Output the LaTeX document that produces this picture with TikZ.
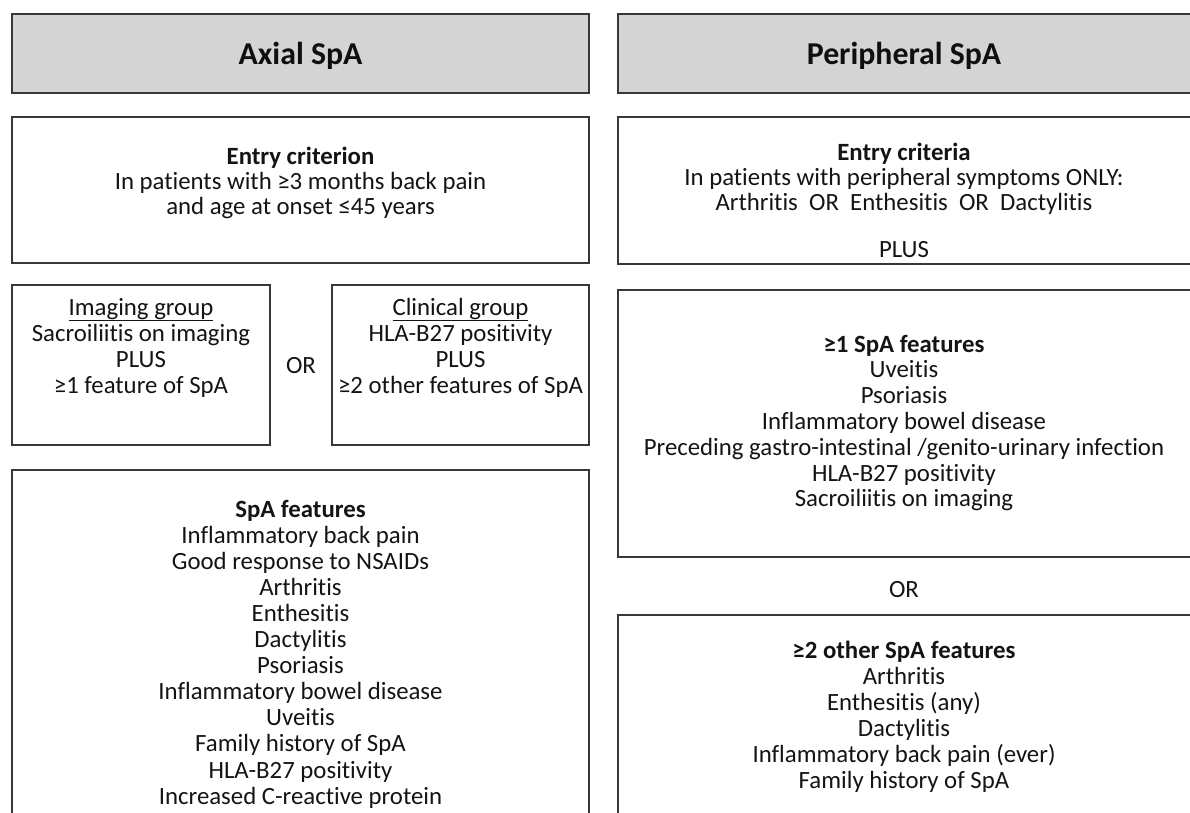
\documentclass[tikz,border=0pt]{standalone}
\usepackage{fontspec}
\setmainfont{Carlito}[Ligatures=NoCommon]
\begin{document}
\begin{tikzpicture}[x=1pt,y=-1pt,
  frame/.style={draw=black!78,line width=1.6pt,inner sep=0pt},
  headbox/.style={frame,fill=black!17},
  txt/.style={inner sep=0pt,text=black!92,font=\fontsize{24.8}{26}\selectfont},
  headtxt/.style={inner sep=0pt,text=black!94,font=\fontsize{31.8}{34}\selectfont\bfseries}]
\useasboundingbox (0,0) rectangle (1190,812);
\clip (0,0) rectangle (1190,812);
\fill[white] (0,0) rectangle (1190,812);

% one text node per line, baselines spaced evenly
\newcommand\txtlines[5]{%
  \foreach \t [count=\k from 0] in {#5} {
    \node[txt,anchor=base] (#1\k) at (#2,{#3+#4*\k}) {\t};
  }}

% ---------- Axial column ----------
\node[headbox,minimum width=577pt,minimum height=79pt] (hdrA) at (300.5,53.5) {};
\node[headtxt,anchor=base] (hdrAt) at (300.5,64) {Axial SpA};

\node[frame,minimum width=577pt,minimum height=146pt] (entryA) at (300.5,190) {};
\txtlines{ea}{300.5}{164}{25}{{\bfseries Entry criterion},In patients with ≥3 months back pain,and age at onset ≤45 years}

\node[frame,minimum width=258pt,minimum height=160pt] (imgG) at (141,365) {};
\txtlines{ig}{141}{315}{26}{\underline{Imaging group},Sacroiliitis on imaging,PLUS,≥1 feature of SpA}

\node[txt,anchor=base] (orA) at (301,373) {OR};

\node[frame,minimum width=257pt,minimum height=160pt] (clinG) at (460.5,365) {};
\txtlines{cg}{460.5}{315}{26}{\underline{Clinical group},HLA-B27 positivity,PLUS,≥2 other features of SpA}

\node[frame,minimum width=577pt,minimum height=380pt] (featA) at (300.5,660) {};
\txtlines{fa}{300.5}{517}{26.1}{{\bfseries SpA features},Inflammatory back pain,Good response to NSAIDs,Arthritis,Enthesitis,Dactylitis,Psoriasis,Inflammatory bowel disease,Uveitis,Family history of SpA,HLA-B27 positivity,Increased C-reactive protein}

% ---------- Peripheral column ----------
\node[headbox,minimum width=582pt,minimum height=79pt] (hdrP) at (909,53.5) {};
\node[headtxt,anchor=base] (hdrPt) at (904,64) {Peripheral SpA};

\node[frame,minimum width=582pt,minimum height=147pt] (entryP) at (909,190.5) {};
\txtlines{ep}{904}{160}{25}{{\bfseries Entry criteria},In patients with peripheral symptoms ONLY:,Arthritis\ \ OR\ \ Enthesitis\ \ OR\ \ Dactylitis}
\node[txt,anchor=base] (plusP) at (904,257) {PLUS};

\node[frame,minimum width=582pt,minimum height=267pt] (oneP) at (909,423.5) {};
\txtlines{op}{904}{352}{25.8}{{\bfseries ≥1 SpA features},Uveitis,Psoriasis,Inflammatory bowel disease,Preceding gastro-intestinal /genito-urinary infection,HLA-B27 positivity,Sacroiliitis on imaging}

\node[txt,anchor=base] (orP) at (904,597) {OR};

\node[frame,minimum width=582pt,minimum height=220pt] (twoP) at (909,725) {};
\txtlines{tp}{904}{658}{26}{{\bfseries ≥2 other SpA features},Arthritis,Enthesitis (any),Dactylitis,Inflammatory back pain (ever),Family history of SpA}
\end{tikzpicture}
\end{document}
